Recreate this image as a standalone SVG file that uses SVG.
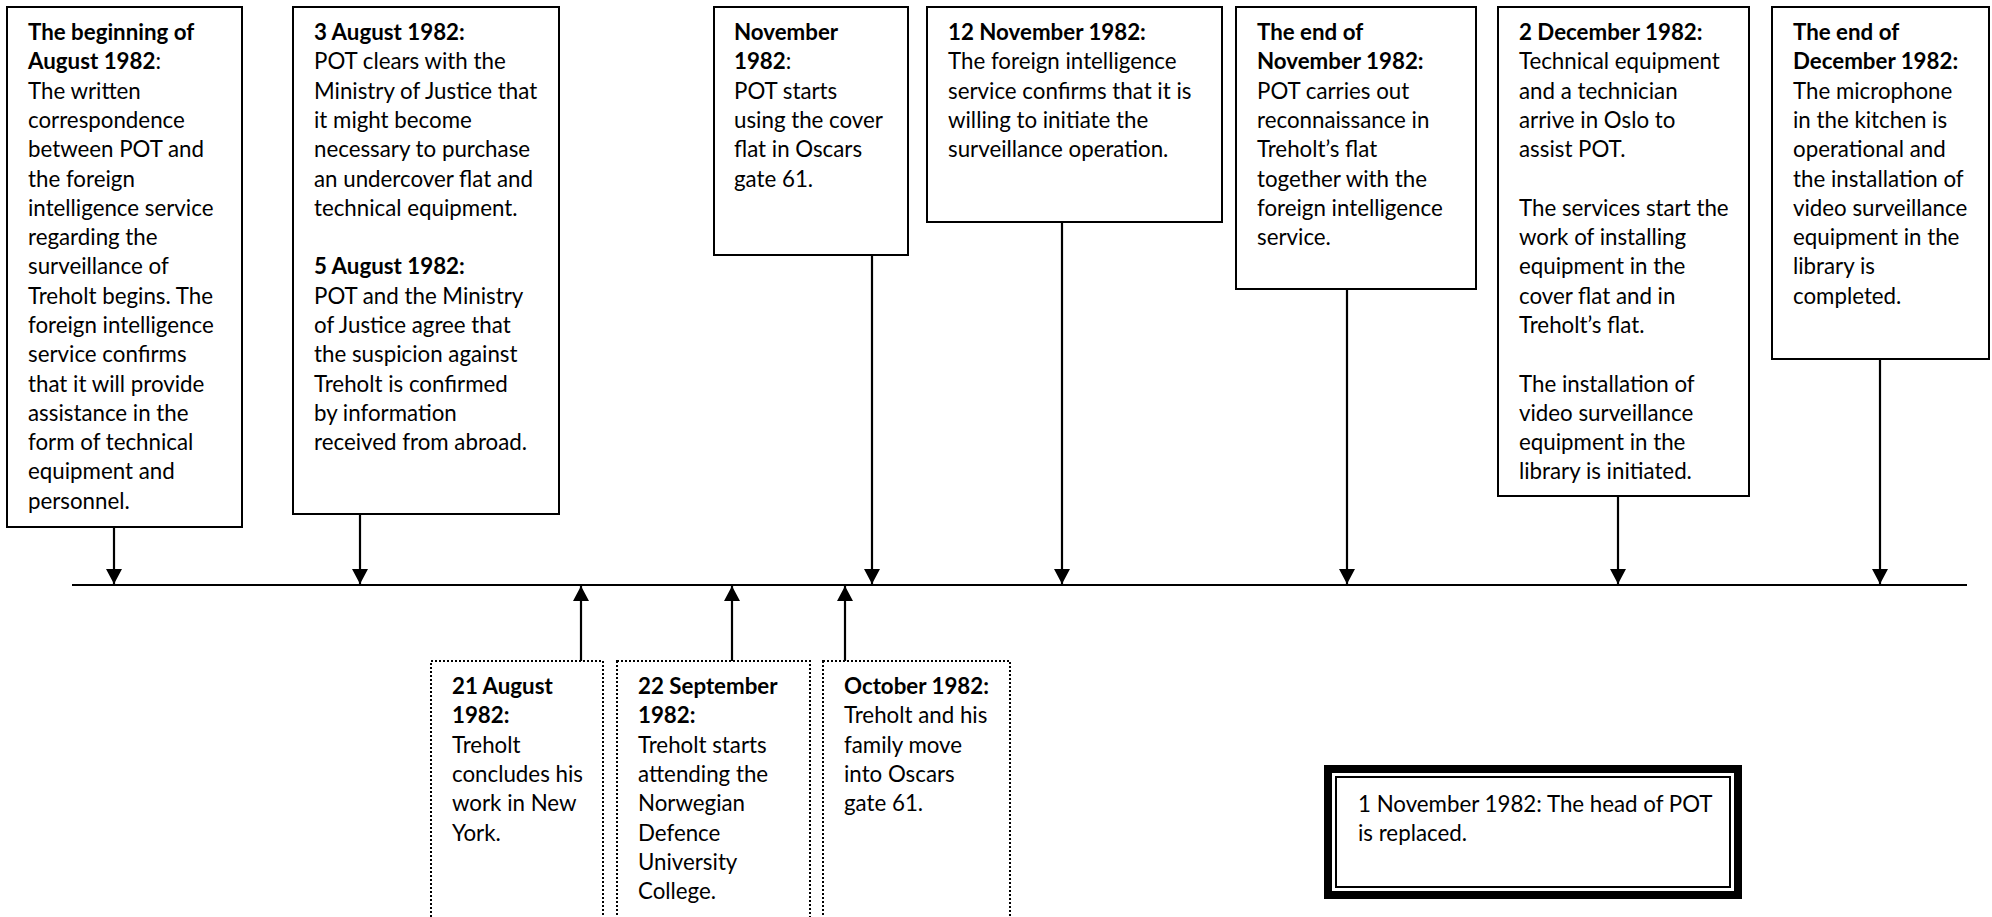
<svg xmlns="http://www.w3.org/2000/svg" width="1992" height="917" viewBox="0 0 1992 917">
<style>
.box{fill:#fff;stroke:#000;stroke-width:2}
.dot{fill:#fff;stroke:#000;stroke-width:2;stroke-dasharray:2 2}
.t{font-family:Lato,"Liberation Sans",sans-serif;font-size:22.3px;fill:#000}
.b{font-weight:bold}
.ln{stroke:#000;stroke-width:2.2;fill:none}
</style>
<defs>
<marker id="ah" markerUnits="userSpaceOnUse" markerWidth="16" markerHeight="16" viewBox="0 0 16 16" refX="15" refY="8" orient="auto">
<path d="M0,0 L15,8 L0,16 Z" fill="#000"/>
</marker>
</defs>
<rect width="1992" height="917" fill="#fff"/>

<g id="connectors">
<line class="ln" x1="72" y1="585" x2="1967" y2="585"/>
<line class="ln" x1="114" y1="527" x2="114" y2="584" marker-end="url(#ah)"/>
<line class="ln" x1="360" y1="514" x2="360" y2="584" marker-end="url(#ah)"/>
<line class="ln" x1="872" y1="255" x2="872" y2="584" marker-end="url(#ah)"/>
<line class="ln" x1="1062" y1="222" x2="1062" y2="584" marker-end="url(#ah)"/>
<line class="ln" x1="1347" y1="289" x2="1347" y2="584" marker-end="url(#ah)"/>
<line class="ln" x1="1618" y1="496" x2="1618" y2="584" marker-end="url(#ah)"/>
<line class="ln" x1="1880" y1="359" x2="1880" y2="584" marker-end="url(#ah)"/>
<line class="ln" x1="581" y1="661" x2="581" y2="586" marker-end="url(#ah)"/>
<line class="ln" x1="732" y1="661" x2="732" y2="586" marker-end="url(#ah)"/>
<line class="ln" x1="845" y1="661" x2="845" y2="586" marker-end="url(#ah)"/>
</g>

<g id="n-aug-begin">
<rect class="box" x="7" y="7" width="235" height="520"/>
<text class="t" x="28" y="40"><tspan class="b">The beginning of</tspan><tspan x="28" dy="29.3"><tspan class="b">August 1982</tspan>:</tspan><tspan x="28" dy="29.3">The written</tspan><tspan x="28" dy="29.3">correspondence</tspan><tspan x="28" dy="29.3">between POT and</tspan><tspan x="28" dy="29.3">the foreign</tspan><tspan x="28" dy="29.3">intelligence service</tspan><tspan x="28" dy="29.3">regarding the</tspan><tspan x="28" dy="29.3">surveillance of</tspan><tspan x="28" dy="29.3">Treholt begins. The</tspan><tspan x="28" dy="29.3">foreign intelligence</tspan><tspan x="28" dy="29.3">service confirms</tspan><tspan x="28" dy="29.3">that it will provide</tspan><tspan x="28" dy="29.3">assistance in the</tspan><tspan x="28" dy="29.3">form of technical</tspan><tspan x="28" dy="29.3">equipment and</tspan><tspan x="28" dy="29.3">personnel.</tspan></text>
</g>

<g id="n-aug-3-5">
<rect class="box" x="293" y="7" width="266" height="507"/>
<text class="t" x="314" y="40"><tspan class="b">3 August 1982:</tspan><tspan x="314" dy="29.3">POT clears with the</tspan><tspan x="314" dy="29.3">Ministry of Justice that</tspan><tspan x="314" dy="29.3">it might become</tspan><tspan x="314" dy="29.3">necessary to purchase</tspan><tspan x="314" dy="29.3">an undercover flat and</tspan><tspan x="314" dy="29.3">technical equipment.</tspan><tspan x="314" dy="58.6" class="b">5 August 1982:</tspan><tspan x="314" dy="29.3">POT and the Ministry</tspan><tspan x="314" dy="29.3">of Justice agree that</tspan><tspan x="314" dy="29.3">the suspicion against</tspan><tspan x="314" dy="29.3">Treholt is confirmed</tspan><tspan x="314" dy="29.3">by information</tspan><tspan x="314" dy="29.3">received from abroad.</tspan></text>
</g>

<g id="n-nov">
<rect class="box" x="714" y="7" width="194" height="248"/>
<text class="t" x="734" y="40"><tspan class="b">November</tspan><tspan x="734" dy="29.3"><tspan class="b">1982</tspan>:</tspan><tspan x="734" dy="29.3">POT starts</tspan><tspan x="734" dy="29.3">using the cover</tspan><tspan x="734" dy="29.3">flat in Oscars</tspan><tspan x="734" dy="29.3">gate 61.</tspan></text>
</g>

<g id="n-nov-12">
<rect class="box" x="927" y="7" width="295" height="215"/>
<text class="t" x="948" y="40"><tspan class="b">12 November 1982:</tspan><tspan x="948" dy="29.3">The foreign intelligence</tspan><tspan x="948" dy="29.3">service confirms that it is</tspan><tspan x="948" dy="29.3">willing to initiate the</tspan><tspan x="948" dy="29.3">surveillance operation.</tspan></text>
</g>

<g id="n-nov-end">
<rect class="box" x="1236" y="7" width="240" height="282"/>
<text class="t" x="1257" y="40"><tspan class="b">The end of</tspan><tspan x="1257" dy="29.3" class="b">November 1982:</tspan><tspan x="1257" dy="29.3">POT carries out</tspan><tspan x="1257" dy="29.3">reconnaissance in</tspan><tspan x="1257" dy="29.3">Treholt’s flat</tspan><tspan x="1257" dy="29.3">together with the</tspan><tspan x="1257" dy="29.3">foreign intelligence</tspan><tspan x="1257" dy="29.3">service.</tspan></text>
</g>

<g id="n-dec-2">
<rect class="box" x="1498" y="7" width="251" height="489"/>
<text class="t" x="1519" y="40"><tspan class="b">2 December 1982:</tspan><tspan x="1519" dy="29.3">Technical equipment</tspan><tspan x="1519" dy="29.3">and a technician</tspan><tspan x="1519" dy="29.3">arrive in Oslo to</tspan><tspan x="1519" dy="29.3">assist POT.</tspan><tspan x="1519" dy="58.6">The services start the</tspan><tspan x="1519" dy="29.3">work of installing</tspan><tspan x="1519" dy="29.3">equipment in the</tspan><tspan x="1519" dy="29.3">cover flat and in</tspan><tspan x="1519" dy="29.3">Treholt’s flat.</tspan><tspan x="1519" dy="58.6">The installation of</tspan><tspan x="1519" dy="29.3">video surveillance</tspan><tspan x="1519" dy="29.3">equipment in the</tspan><tspan x="1519" dy="29.3">library is initiated.</tspan></text>
</g>

<g id="n-dec-end">
<rect class="box" x="1772" y="7" width="217" height="352"/>
<text class="t" x="1793" y="40"><tspan class="b">The end of</tspan><tspan x="1793" dy="29.3" class="b">December 1982:</tspan><tspan x="1793" dy="29.3">The microphone</tspan><tspan x="1793" dy="29.3">in the kitchen is</tspan><tspan x="1793" dy="29.3">operational and</tspan><tspan x="1793" dy="29.3">the installation of</tspan><tspan x="1793" dy="29.3">video surveillance</tspan><tspan x="1793" dy="29.3">equipment in the</tspan><tspan x="1793" dy="29.3">library is</tspan><tspan x="1793" dy="29.3">completed.</tspan></text>
</g>

<g id="n-aug-21">
<rect class="dot" x="431" y="661" width="172" height="300"/>
<text class="t" x="452" y="694"><tspan class="b">21 August</tspan><tspan x="452" dy="29.3" class="b">1982:</tspan><tspan x="452" dy="29.3">Treholt</tspan><tspan x="452" dy="29.3">concludes his</tspan><tspan x="452" dy="29.3">work in New</tspan><tspan x="452" dy="29.3">York.</tspan></text>
</g>

<g id="n-sep-22">
<rect class="dot" x="617" y="661" width="193" height="300"/>
<text class="t" x="638" y="694"><tspan class="b">22 September</tspan><tspan x="638" dy="29.3" class="b">1982:</tspan><tspan x="638" dy="29.3">Treholt starts</tspan><tspan x="638" dy="29.3">attending the</tspan><tspan x="638" dy="29.3">Norwegian</tspan><tspan x="638" dy="29.3">Defence</tspan><tspan x="638" dy="29.3">University</tspan><tspan x="638" dy="29.3">College.</tspan></text>
</g>

<g id="n-oct">
<rect class="dot" x="823" y="661" width="187" height="300"/>
<text class="t" x="844" y="694"><tspan class="b">October 1982:</tspan><tspan x="844" dy="29.3">Treholt and his</tspan><tspan x="844" dy="29.3">family move</tspan><tspan x="844" dy="29.3">into Oscars</tspan><tspan x="844" dy="29.3">gate 61.</tspan></text>
</g>

<g id="n-nov-1">
<rect x="1324" y="765" width="418" height="134" fill="#000"/>
<rect x="1332" y="773" width="402" height="118" fill="#fff"/>
<rect x="1336" y="777" width="394" height="110" fill="#fff" stroke="#000" stroke-width="2"/>
<text class="t" x="1358" y="812"><tspan>1 November 1982: The head of POT</tspan><tspan x="1358" dy="29.3">is replaced.</tspan></text>
</g>
</svg>
